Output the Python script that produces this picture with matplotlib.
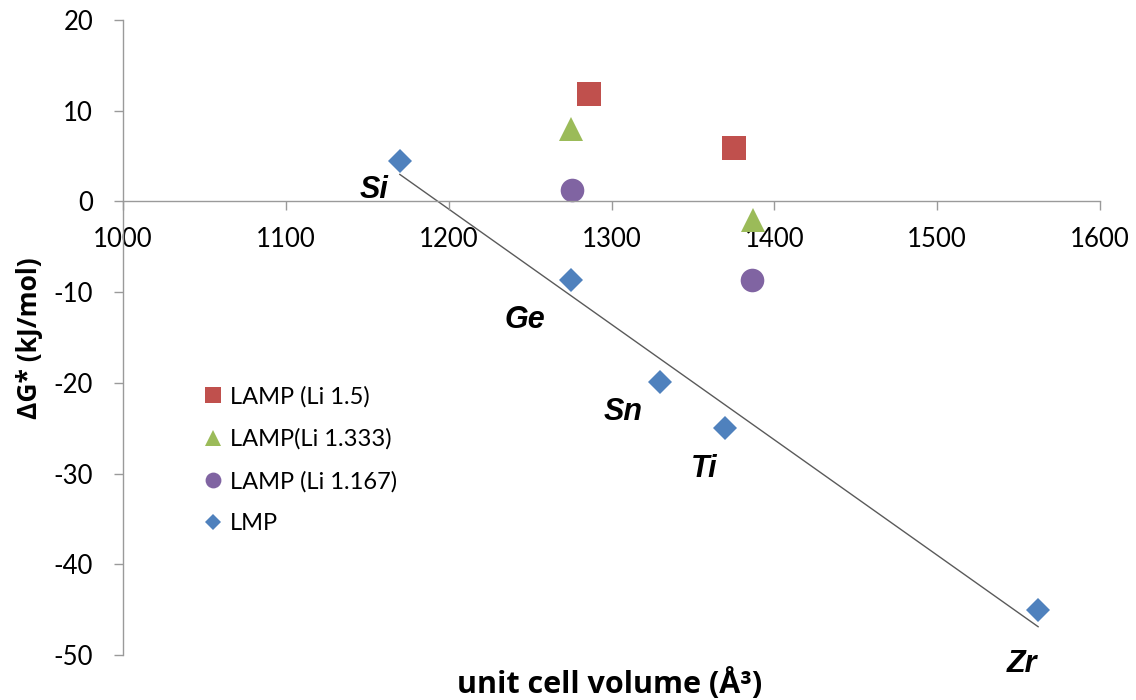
import numpy as np
import matplotlib
matplotlib.use("Agg")
import matplotlib.pyplot as plt

# data
lmp_vol = [1170, 1275, 1330, 1370, 1562]
lmp_dg = [4.5, -8.7, -19.9, -25.0, -45.0]
lmp_names = ["Si", "Ge", "Sn", "Ti", "Zr"]
lamp15_vol = [1286, 1375]
lamp15_dg = [11.8, 5.9]
lamp1333_vol = [1275, 1387]
lamp1333_dg = [8.0, -2.0]
lamp1167_vol = [1276, 1386]
lamp1167_dg = [1.3, -8.7]

# label anchor points (data units)
name_x = [1154, 1247, 1307, 1357, 1552]
name_y = [0.4, -13.9, -24.1, -30.4, -51.9]

x_ticks = [1000, 1100, 1200, 1300, 1400, 1500, 1600]
y_ticks = [-50, -40, -30, -20, -10, 0, 10, 20]

plt.rcParams['font.family'] = ['Lato', 'DejaVu Sans']
plt.rcParams['axes.unicode_minus'] = False

fig = plt.figure(figsize=(11.36, 7.0), dpi=100)
ax = fig.add_axes([0.1083, 0.0643, 0.860, 0.907])

ax.plot(lamp15_vol, lamp15_dg, 's', color='#C0504D', markersize=17,
        markeredgewidth=0, label='LAMP (Li 1.5)')
ax.plot(lamp1333_vol, lamp1333_dg, '^', color='#9BBB59', markersize=17,
        markeredgewidth=0, label='LAMP(Li 1.333)')
ax.plot(lamp1167_vol, lamp1167_dg, 'o', color='#8064A2', markersize=17,
        markeredgewidth=0, label='LAMP (Li 1.167)')
ax.plot(lmp_vol, lmp_dg, 'D', color='#4F81BD', markersize=12,
        markeredgewidth=0, label='LMP')

# linear trend line through LMP points
k, b = np.polyfit(lmp_vol, lmp_dg, 1)
xs = np.array([min(lmp_vol), max(lmp_vol)])
ax.plot(xs, k * xs + b, color='#5a5a5a', lw=1.0, zorder=1)

for n, tx, ty in zip(lmp_names, name_x, name_y):
    ax.text(tx, ty, n, ha='center', va='baseline', fontsize=22,
            fontweight='bold', fontstyle='italic', family='Liberation Sans',
            clip_on=False)

ax.set_xlim(1000, 1600)
ax.set_ylim(-50, 20)
ax.set_xticks(x_ticks)
ax.set_yticks(y_ticks)

ax.spines['bottom'].set_position(('data', 0))
ax.spines['top'].set_visible(False)
ax.spines['right'].set_visible(False)
for s in ['bottom', 'left']:
    ax.spines[s].set_color('#9a9a9a')
    ax.spines[s].set_linewidth(1.0)
ax.tick_params(axis='both', direction='out', length=6.5, width=1.0,
               color='#9a9a9a', labelsize=18.5, labelcolor='black')
ax.tick_params(axis='x', pad=12)
ax.tick_params(axis='y', pad=15)

fig.text(0.537, 1 - 693 / 700, 'unit cell volume (Å³)', ha='center',
         va='baseline', fontsize=22, fontweight='bold', family='Open Sans')
fig.text(0.026, 1 - 338 / 700, 'ΔG* (kJ/mol)', ha='center', va='center',
         rotation=90, fontsize=19, fontweight='bold', family='Open Sans')

ax.legend(loc='center left', bbox_to_anchor=(0.080, 0.307), frameon=False,
          fontsize=17, markerscale=0.67, handlelength=1.0,
          handletextpad=0.2, labelspacing=0.88, borderpad=0,
          borderaxespad=0)

fig.savefig('out.png', dpi=100)
